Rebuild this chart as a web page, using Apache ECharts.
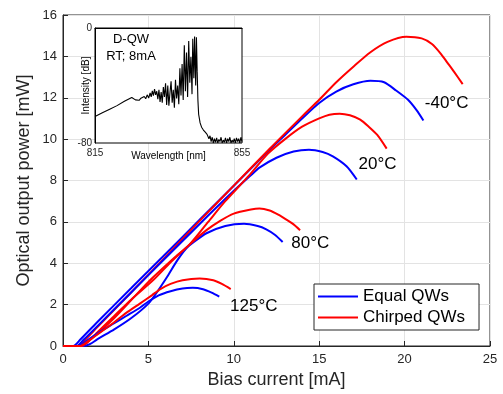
<!DOCTYPE html>
<html>
<head>
<meta charset="utf-8">
<script src="https://cdn.jsdelivr.net/npm/echarts@6/dist/echarts.min.js"></script>
<style>
  html, body { margin: 0; padding: 0; background: #fff; }
  #main { width: 503px; height: 394px; }
</style>
</head>
<body>
<div id="main"></div>
<script>
// L-I curves, [current mA, power mW]
const eqM40 = [[0,0],[0.6,0],[1.0,0.3],[2,1.15],[4,2.8],[6,4.45],[8,6.1],[10,7.75],[12,9.4],[13,10.2],[14,11.0],[15,11.75],[16,12.3],[17,12.65],[18,12.82],[18.8,12.75],[19.5,12.35],[20.2,11.9],[20.7,11.4],[21.1,10.9]]
const chM40 = [[0,0],[0.9,0],[1.3,0.3],[2,0.9],[4,2.6],[6,4.3],[8,6.05],[10,7.75],[12,9.45],[14,11.1],[15,11.9],[16,12.75],[17,13.5],[18,14.2],[19,14.7],[20.1,14.95],[21,14.87],[21.6,14.6],[22.1,14.15],[22.5,13.7],[22.9,13.25],[23.4,12.66]]
const eqP20 = [[0,0],[0.8,0],[1.2,0.3],[2,0.95],[4,2.6],[6,4.25],[8,5.9],[10,7.5],[11,8.25],[11.5,8.62],[12.5,9.1],[13.5,9.4],[14.4,9.49],[15.2,9.38],[15.8,9.17],[16.6,8.69],[17.2,8.05]]
const chP20 = [[0,0],[1.1,0],[1.6,0.3],[3,1.35],[5,3.1],[6.5,4.25],[7.4,4.9],[8.5,6.0],[9.5,7.0],[10.9,8.25],[12,9.3],[13,10.0],[14,10.6],[15,11.0],[15.6,11.18],[16.2,11.23],[16.8,11.15],[17.4,10.94],[17.9,10.6],[18.4,10.2],[18.95,9.54]]
const eqP80 = [[0,0],[1.2,0],[1.6,0.1],[2,0.32],[3,0.8],[4,1.35],[5,2.05],[5.5,2.6],[6.1,3.35],[6.7,4.15],[7.2,4.7],[7.7,5.05],[8.4,5.45],[9.5,5.8],[10.6,5.91],[11.4,5.8],[11.9,5.64],[12.4,5.38],[12.86,5.03]]
const chP80 = [[0,0],[1.1,0],[1.4,0.18],[2,0.65],[3,1.45],[4,2.25],[5.3,3.2],[6.3,4.05],[7.4,4.9],[8.4,5.6],[9.2,6.05],[10,6.4],[11,6.6],[11.5,6.65],[12.1,6.55],[12.6,6.35],[13.1,6.1],[13.5,5.88],[13.88,5.6]]
const eqP125 = [[0,0],[0.9,0],[1.3,0.2],[2,0.6],[3,1.1],[3.7,1.45],[4.5,1.85],[5.0,2.15],[5.6,2.45],[6.3,2.65],[7.0,2.78],[7.6,2.81],[8.2,2.74],[8.7,2.58],[9.15,2.39]]
const chP125 = [[0,0],[1.0,0],[1.4,0.2],[2,0.55],[3,1.15],[3.7,1.6],[4.5,2.05],[5.2,2.45],[5.7,2.75],[6.3,3.0],[7.0,3.18],[8.0,3.26],[8.8,3.18],[9.3,3.0],[9.82,2.75]]

// temperature annotations [x, y, text]
const tempLabels = [[22.46,11.74,'-40°C'],[18.42,8.8,'20°C'],[14.48,4.98,'80°C'],[11.17,1.93,'125°C']]

// inset spectrum, [wavelength nm, intensity dB]
const spectrum = [[815,-61.5],[817,-59],[819,-56.5],[821,-54],[823,-51],[825,-48.3],[825.5,-49.5],[826,-50],[826.5,-49.2],[827,-50.3],[827.5,-48.8],[828,-49.8],[828.4,-47.6],[828.8,-49.2],[829.2,-46.5],[829.6,-48.7],[830,-45.2],[830.3,-47.9],[830.6,-43.8],[830.9,-47],[831.2,-42.5],[831.5,-46.5],[831.8,-44],[832.1,-49.5],[832.4,-43],[832.7,-51.5],[833,-44.5],[833.3,-52],[833.6,-41],[833.9,-48],[834.2,-38.5],[834.5,-53.5],[834.8,-40],[835.1,-54],[835.4,-45],[835.7,-37],[836,-52],[836.3,-43],[836.6,-55.5],[836.9,-36],[837.2,-49],[837.5,-40],[837.8,-53],[838.1,-28],[838.4,-47],[838.7,-25],[839,-50],[839.3,-12],[839.6,-44],[839.9,-17],[840.2,-48],[840.5,-9],[840.8,-38],[841.1,-20],[841.4,-46],[841.6,-7.5],[841.9,-35],[842.1,-6],[842.4,-40],[842.6,-6.5],[842.8,-30],[843,-50],[843.2,-60],[843.6,-66],[844,-69],[844.5,-71],[845,-72.5],[845.5,-74],[846,-77],[846.3,-75],[846.6,-79],[846.9,-76],[847.2,-80],[847.5,-77],[847.8,-79.5],[848.1,-76.5],[848.4,-80],[848.7,-77.5],[849,-79],[849.3,-76],[849.6,-80],[849.9,-78],[850.2,-79.5],[850.5,-76.5],[850.8,-80],[851.1,-77],[851.4,-79],[851.7,-76],[852,-80],[852.3,-78],[852.6,-79.5],[852.9,-77],[853.2,-80],[853.5,-76.5],[853.8,-79],[854.1,-77],[854.4,-80],[854.7,-76],[855,-79]]

const FONT = 'Liberation Sans, Arial, Helvetica, sans-serif'
const AXIS_COLOR = '#262626'
const BLUE = '#0000ff'
const RED = '#ff0000'

const myChart = echarts.init(document.getElementById('main'))

const curve = (name, color, data) => ({
  name: name,
  type: 'line',
  xAxisIndex: 0,
  yAxisIndex: 0,
  data: data,
  symbol: 'none',
  smooth: 0.25,
  lineStyle: { color: color, width: 2 },
  itemStyle: { color: color },
  z: 2
})

const option = {
  animation: false,
  backgroundColor: '#fff',
  textStyle: { fontFamily: FONT },
  grid: [
    { left: 63, right: 13, top: 15, bottom: 48, show: true, borderColor: AXIS_COLOR, borderWidth: 1 },
    { left: 95, top: 28, width: 147, height: 115, show: true, backgroundColor: '#fff', borderColor: '#000', borderWidth: 1, z: 3 }
  ],
  legend: {
    data: ['Equal QWs', 'Chirped QWs'],
    orient: 'vertical',
    left: 314,
    top: 284,
    icon: 'rect',
    itemWidth: 40,
    itemHeight: 2,
    itemGap: 4,
    padding: [4, 14, 4, 4],
    borderColor: AXIS_COLOR,
    borderWidth: 1,
    backgroundColor: '#fff',
    textStyle: { fontSize: 17, color: '#000', fontFamily: FONT }
  },
  xAxis: [
    {
      type: 'value', gridIndex: 0, min: 0, max: 25, interval: 5,
      axisLine: { lineStyle: { color: AXIS_COLOR } },
      axisTick: { inside: true, length: 5, lineStyle: { color: AXIS_COLOR } },
      splitLine: { lineStyle: { color: '#e3e3e3' } },
      axisLabel: { fontSize: 13, color: AXIS_COLOR, margin: 7, fontFamily: FONT },
      name: 'Bias current [mA]', nameLocation: 'middle', nameGap: 25,
      nameTextStyle: { fontSize: 18, color: AXIS_COLOR, fontFamily: FONT }
    },
    {
      type: 'value', gridIndex: 1, min: 815, max: 855, interval: 40, z: 4,
      axisLine: { lineStyle: { color: '#000' } },
      axisTick: { show: false },
      splitLine: { show: false },
      axisLabel: { fontSize: 10, color: AXIS_COLOR, margin: 5, fontFamily: FONT },
      name: 'Wavelength [nm]', nameLocation: 'middle', nameGap: 8, nameMoveOverlap: false,
      nameTextStyle: { fontSize: 10, color: '#000', fontFamily: FONT }
    }
  ],
  yAxis: [
    {
      type: 'value', gridIndex: 0, min: 0, max: 16, interval: 2,
      axisLine: { lineStyle: { color: AXIS_COLOR } },
      axisTick: { inside: true, length: 5, lineStyle: { color: AXIS_COLOR } },
      splitLine: { lineStyle: { color: '#e3e3e3' } },
      axisLabel: { fontSize: 13, color: AXIS_COLOR, margin: 6, fontFamily: FONT },
      name: 'Optical output power [mW]', nameLocation: 'middle', nameGap: 30, nameMoveOverlap: false,
      nameTextStyle: { fontSize: 18, color: AXIS_COLOR, fontFamily: FONT }
    },
    {
      type: 'value', gridIndex: 1, min: -80, max: 0, interval: 80, z: 4,
      axisLine: { lineStyle: { color: '#000' } },
      axisTick: { show: false },
      splitLine: { show: false },
      axisLabel: { fontSize: 10, color: AXIS_COLOR, margin: 3, fontFamily: FONT },
      name: 'Intensity [dB]', nameLocation: 'middle', nameGap: 4, nameMoveOverlap: false,
      nameTextStyle: { fontSize: 10, color: '#000', fontFamily: FONT }
    }
  ],
  graphic: [
    { type: 'text', x: 131, y: 33, z: 10, style: { text: 'D-QW', fill: '#000', font: '13px ' + FONT, textAlign: 'center' } },
    { type: 'text', x: 131, y: 50, z: 10, style: { text: 'RT; 8mA', fill: '#000', font: '13px ' + FONT, textAlign: 'center' } }
  ],
  series: [
    curve('Equal QWs', BLUE, eqM40),
    curve('Chirped QWs', RED, chM40),
    curve('Equal QWs', BLUE, eqP20),
    curve('Chirped QWs', RED, chP20),
    curve('Equal QWs', BLUE, eqP80),
    curve('Chirped QWs', RED, chP80),
    curve('Equal QWs', BLUE, eqP125),
    curve('Chirped QWs', RED, chP125),
    {
      name: 'temps', type: 'scatter', xAxisIndex: 0, yAxisIndex: 0,
      data: tempLabels, symbolSize: 0, silent: true,
      itemStyle: { opacity: 1 },
      label: {
        show: true, position: 'inside', fontSize: 17, color: '#000', fontFamily: FONT,
        opacity: 1, textBorderWidth: 0, formatter: p => p.data[2]
      },
      z: 3
    },
    {
      name: 'spectrum', type: 'line', xAxisIndex: 1, yAxisIndex: 1,
      data: spectrum, symbol: 'none', silent: true,
      lineStyle: { color: '#000', width: 1.1 },
      z: 5
    }
  ]
}

option && myChart.setOption(option)
</script>
</body>
</html>
